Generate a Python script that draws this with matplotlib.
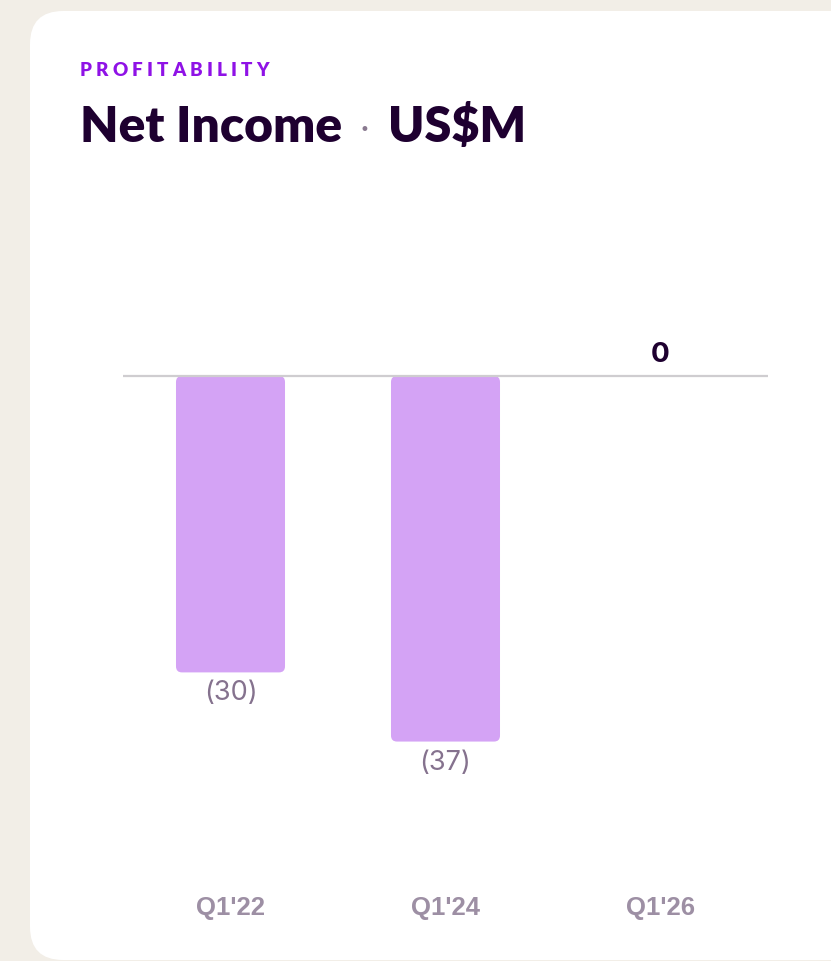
import matplotlib
matplotlib.use("Agg")
import matplotlib.pyplot as plt
from matplotlib.patches import FancyBboxPatch

categories = ["Q1'22", "Q1'24", "Q1'26"]
net_income = [-30, -37, 0]
value_labels = ["(30)", "(37)", "0"]

W, H = 831, 962
DPI = 100
BG = "#F2EEE7"
BAR = "#D4A3F5"
DARK = "#1E0030"
PURPLE = "#8F12E6"
LABEL_GRAY = "#85728E"
TICK_GRAY = "#9D8FA4"
ZERO_LINE = "#CFCDD0"

fig = plt.figure(figsize=(W / DPI, H / DPI), dpi=DPI)
fig.patch.set_facecolor(BG)

def fx(px):
    return px / W

def fy(py):
    return 1 - py / H

# white card
card = FancyBboxPatch((fx(30), fy(961)), fx(900), fy(12) - fy(961),
                      boxstyle="round,pad=0,rounding_size=0.04",
                      mutation_aspect=W / H,
                      transform=fig.transFigure, facecolor="white",
                      edgecolor="none", zorder=-5)
fig.patches.append(card)

# axes: x from 123 to 768 px, y from 200 to 860 px
ax_left, ax_right, ax_top, ax_bot = 123, 768, 200, 860
ax = fig.add_axes([fx(ax_left), fy(ax_bot), fx(ax_right - ax_left), fy(ax_top) - fy(ax_bot)])
ax.set_zorder(2)
ax.patch.set_visible(False)
px_per_unit = 9.88
ax.set_xlim(-0.5, 2.5)
ax.set_ylim(-(ax_bot - 377) / px_per_unit, (377 - ax_top) / px_per_unit)
for s in ax.spines.values():
    s.set_visible(False)
ax.set_yticks([])
ax.set_xticks([])

x = list(range(len(categories)))
bars = ax.bar(x, net_income, width=0.507, color=BAR, zorder=2)

# rounded bars
x_px_per_unit = (ax_right - ax_left) / 3.0
aspect = x_px_per_unit / px_per_unit
r_px = 6
for b in bars:
    h = b.get_height()
    b.set_visible(False)
    if h == 0:
        continue
    fb = FancyBboxPatch((b.get_x(), min(0, h)), b.get_width(), abs(h),
                        boxstyle=f"round,pad=0,rounding_size={r_px / x_px_per_unit}",
                        mutation_aspect=aspect, facecolor=BAR, edgecolor="none", zorder=2)
    ax.add_patch(fb)

ax.axhline(0, color=ZERO_LINE, lw=1.6, zorder=3)

for xi, v, lab in zip(x, net_income, value_labels):
    if v < 0:
        ax.annotate(lab, (xi, v), xytext=(0, -20 * 72 / DPI), textcoords="offset points",
                    ha="center", va="center", fontsize=19.5, color=LABEL_GRAY,
                    family="Inter", annotation_clip=False)
    else:
        ax.annotate(lab, (xi, v), xytext=(0, 22 * 72 / DPI), textcoords="offset points",
                    ha="center", va="center", fontsize=20, color=DARK,
                    family="Inter", fontweight="bold", annotation_clip=False)

# category labels
for xi, c in zip(x, categories):
    ax.text(xi, -(908 - 377) / px_per_unit, c, ha="center", va="center",
            fontsize=18.5, fontweight="bold", color=TICK_GRAY, family="Liberation Sans",
            clip_on=False)

# PROFITABILITY with letter spacing
fig.canvas.draw()
renderer = fig.canvas.get_renderer()
cur = 80
for ch in "PROFITABILITY":
    t = fig.text(fx(cur), fy(71), ch, fontsize=13.5, fontweight="heavy", color=PURPLE,
                 family="Lato", ha="left", va="center")
    bb = t.get_window_extent(renderer)
    cur += bb.width + 4.1

fig.text(fx(80), fy(127), "Net Income", fontsize=35.8, fontweight="heavy", color=DARK,
         family="Lato", ha="left", va="center")
fig.text(fx(364), fy(130), "•", fontsize=12, color="#8A7A90",
         family="DejaVu Sans", ha="center", va="center")
fig.text(fx(388), fy(127), "US$M", fontsize=35, fontweight="heavy", color=DARK,
         family="Lato", ha="left", va="center")

fig.savefig("out.png", dpi=DPI, facecolor=BG)
